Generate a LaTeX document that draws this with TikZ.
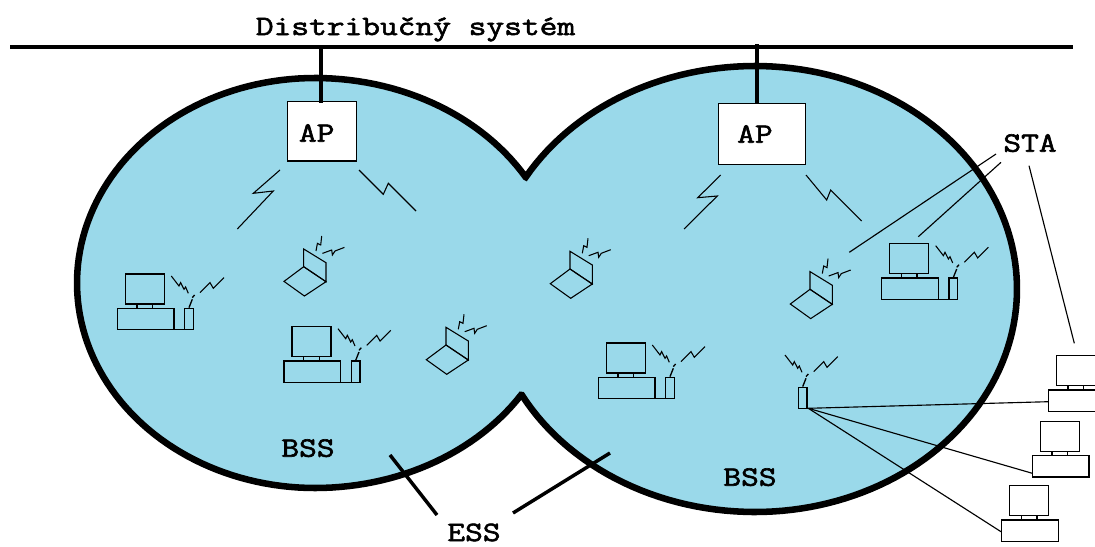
\documentclass[tikz,border=0pt]{standalone}
\usepackage{fontspec}
\newfontfamily\labelfont[FakeBold=2.2,FakeStretch=1.23]{Latin Modern Mono}
\definecolor{bssblue}{HTML}{9AD9EA}
\tikzset{
  x=0.75pt,y=-0.75pt,
  thin line/.style={draw=black,line width=1pt},
  wire/.style={draw=black,line width=0.85pt},
  bolt/.style={draw=black,line width=0.8pt,line join=miter},
  label text/.style={font=\labelfont\fontsize{21}{21}\selectfont,inner sep=0pt,text=black,anchor=base},
  apbox/.style={draw=black,fill=white,line width=1pt,inner sep=0pt},
  wave/.pic={
    \draw[bolt] (54,-32.3) -- (61.7,-22.3) -- (63.3,-25.7) -- (66.7,-19) -- (68.3,-21.3) -- (71,-15);
    \draw[bolt] (82.7,-15.7) -- (92.7,-25.7) -- (96,-20) -- (106.7,-30.7);
    \draw[thin line] (71.7,-0.7) -- (75,-9) (75,-10.7) -- (77.3,-13.3);
    \draw[thin line,fill=none] (67.3,0) rectangle (76,21.3);
  },
  monitor/.pic={
    \draw[thin line] (8,-34.3) rectangle (47,-4.3);
    \draw[thin line] (0,0) rectangle (56.7,21.3);
    \draw[thin line] (19.7,-4.3) -- (19.7,0) (35.3,-4.3) -- (35.3,0);
  },
  station/.pic={
    \pic {monitor};
    \pic {wave};
    \draw[thin line] (56.7,21.3) -- (67.3,21.3);
  },
  laptop/.pic={
    \draw[bolt] (0,0) -- (0,-17.7) -- (22.3,-4) -- (22.3,15) -- cycle;
    \draw[bolt] (0,0) -- (22.3,15) -- (0.7,29.3) -- (-19.7,14.7) -- cycle;
    \draw[bolt] (12.3,-15.7) -- (13.7,-23.3) -- (17,-21.7) -- (18,-30.7);
    \draw[bolt] (18.7,-13.3) -- (28,-16.7) -- (28.7,-11.7) -- (31.3,-15.7) -- (40.7,-19.3);
  },
}
\begin{document}
\begin{tikzpicture}
\useasboundingbox (0,0) rectangle (1095,546);
% coverage area: two overlapping ovals meeting at cusps
\draw[fill=bssblue,draw=black,line width=4.9pt,line join=miter,miter limit=2]
  plot[domain=31.1:90,samples=30,variable=\t] ({315+246*cos(\t)},{283-205*sin(\t)})
  -- plot[domain=90:270,samples=90,variable=\t] ({315+238*cos(\t)},{283-205*sin(\t)})
  -- plot[domain=270:326.9,samples=30,variable=\t] ({315+246*cos(\t)},{283-205*sin(\t)})
  -- plot[domain=208.4:270,samples=30,variable=\t] ({755+265*cos(\t)},{289-223*sin(\t)})
  -- plot[domain=270:450,samples=90,variable=\t] ({755+262*cos(\t)},{289-223*sin(\t)})
  -- plot[domain=450:509.9,samples=30,variable=\t] ({755+265*cos(\t)},{289-223*sin(\t)})
  -- cycle;
% bus
\coordinate (busW) at (10,47);
\coordinate (busE) at (1073,47);
\draw[line width=3.4pt] (busW) -- (busE);
\node[label text] (title) at (415.5,35) {Distribučný systém};
% access points
\node[apbox,minimum width=52pt,minimum height=44.5pt] (ap1) at (322,131.4) {};
\node[apbox,minimum width=65.2pt,minimum height=45.7pt] (ap2) at (761.8,133.8) {};
\node[label text] (ap1t) at (316.7,141.7) {AP};
\node[label text] (ap2t) at (755,142.7) {AP};
\coordinate (up1) at (321,47);
\coordinate (up2) at (757,44);
\draw[line width=3.2pt] (up1) -- (321,103);
\draw[line width=3.2pt] (up2) -- (757,104);
% AP radio bolts
\draw[bolt] (280,170) -- (253.3,193.3) -- (273.3,191) -- (237.3,229);
\draw[bolt] (359,170) -- (383.3,194.3) -- (388.3,183.3) -- (416,211);
\draw[bolt] (720.7,175) -- (697.7,197.7) -- (717.3,196) -- (684,229);
\draw[bolt] (806,175) -- (826.7,200) -- (830.7,190) -- (861.7,221);
% stations
\pic (c1) at (117.3,308.3) {station};
\pic (c2) at (284,361) {station};
\pic (c3) at (881.7,278) {station};
\pic (c4) at (598.3,377.3) {station};
\pic (l1) at (303.7,266.7) {laptop};
\pic (l2) at (446,345) {laptop};
\pic (l3) at (570,269) {laptop};
\pic (l4) at (810,289.3) {laptop};
\pic (ap) at (731,387.3) {wave};
% wired stations
\pic (c5) at (1048.3,390) {monitor};
\pic (c6) at (1032.3,455.7) {monitor};
\pic (c7) at (1001.7,520) {monitor};
\coordinate (hub) at (808.3,408.3);
\coordinate (w5) at (1048.3,401.7);
\coordinate (w6) at (1032.3,473.3);
\coordinate (w7) at (1001,531.7);
\draw[wire] (hub) -- (w5);
\draw[wire] (hub) -- (w6);
\draw[wire] (hub) -- (w7);
% labels
\node[label text] (sta) at (1030,151.7) {STA};
\coordinate (s1a) at (996,154);  \coordinate (s1b) at (849.3,252.3);
\coordinate (s2a) at (1001,162.3); \coordinate (s2b) at (918.3,236.7);
\coordinate (s3a) at (1029,165.7); \coordinate (s3b) at (1074.3,343.3);
\draw[wire] (s1a) -- (s1b);
\draw[wire] (s2a) -- (s2b);
\draw[wire] (s3a) -- (s3b);
\node[label text] (bss1) at (308,456.7) {BSS};
\node[label text] (bss2) at (750,485.7) {BSS};
\node[label text] (ess) at (474,541) {ESS};
\coordinate (e1a) at (390,455); \coordinate (e1b) at (437,515);
\coordinate (e2a) at (610,453); \coordinate (e2b) at (513,513);
\draw[line width=2.6pt] (e1a) -- (e1b);
\draw[line width=2.6pt] (e2a) -- (e2b);
\end{tikzpicture}
\end{document}
